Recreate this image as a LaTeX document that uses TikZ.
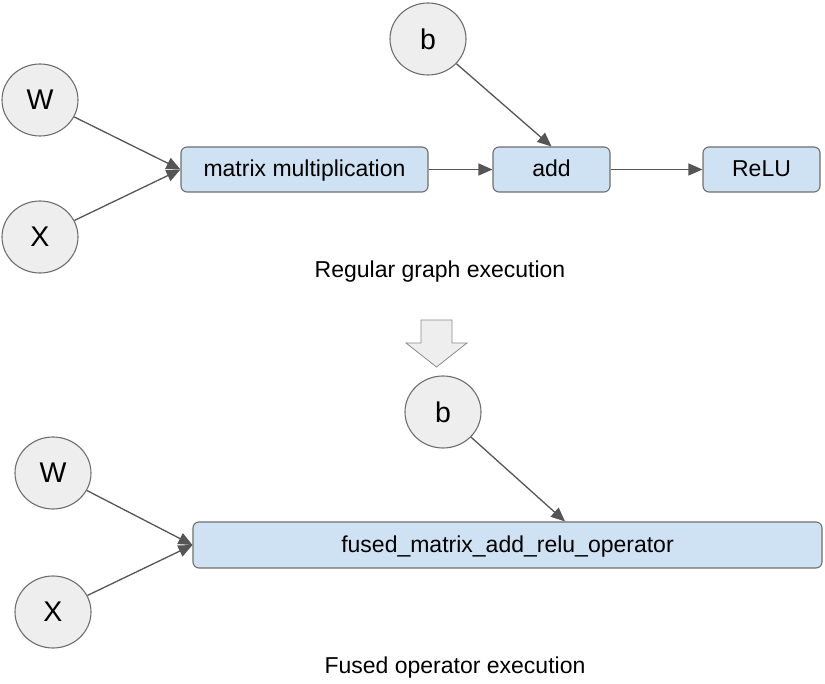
\documentclass[tikz,border=0pt]{standalone}
\usepackage{fontspec}
\setmainfont{Liberation Sans}
\usetikzlibrary{positioning, arrows.meta, shapes.geometric}
\definecolor{circfill}{HTML}{EEEEEE}
\definecolor{boxfill}{HTML}{CFE2F3}
\definecolor{edgegray}{HTML}{6E6E6E}
\definecolor{arrgray}{HTML}{555555}
\newcommand{\bigtxt}{\fontsize{28.5}{32}\selectfont}
\newcommand{\medtxt}{\fontsize{23}{27}\selectfont}

\begin{document}
\begin{tikzpicture}[x=1pt, y=-1pt,
		invar/.style={ellipse, draw=edgegray, fill=circfill, line width=1.1pt, minimum width=76pt, minimum height=72pt, inner sep=0pt, font=\bigtxt},
		opbox/.style={rectangle, rounded corners=6pt, draw=edgegray, fill=boxfill, line width=1.1pt, minimum height=45pt, inner sep=0pt, text height=18pt, text depth=3pt, font=\medtxt},
		flow/.style={draw=arrgray, line width=1.3pt, -{Triangle[length=14pt,width=12pt]}}]
			\useasboundingbox (0,0) rectangle (825,684);

			% regular graph
			\node[invar]  (W1)  at (40,100)  {W};
			\node[invar]  (X1)  at (40,237)  {X};
			\node[invar]  (b1)  at (428,39)  {b};
			\node[opbox, minimum width=247pt]  (mm)    at (304.5,169.5)  {matrix multiplication};
			\node[opbox, minimum width=117pt]  (add)   at (551.5,169.5)  {add};
			\node[opbox, minimum width=117pt]  (relu)  at (761.5,169.5)  {ReLU};
			\node[font=\medtxt]  (cap1)  at (440,272)  {Regular graph execution};

			\draw[flow] (W1) -- (mm.west);
			\draw[flow] (X1) -- (mm.west);
			\draw[flow] (b1) -- (add.north);
			\draw[flow] (mm) -- (add);
			\draw[flow] (add) -- (relu);

			% block arrow
			\filldraw[fill=circfill, draw=edgegray!80, line width=0.8pt]
				(421,320) -- (452,320) -- (452,343) -- (467,343) -- (436.5,367) -- (406,343) -- (421,343) -- cycle;

			% fused graph
			\node[invar]  (b2)  at (443,412)  {b};
			\node[invar]  (W2)  at (53,473)   {W};
			\node[invar]  (X2)  at (53,612)   {X};
			\node[opbox, minimum width=629pt, minimum height=46pt]  (fused)  at (507.5,545)  {fused\_matrix\_add\_relu\_operator};
			\node[font=\medtxt]  (cap2)  at (455,668)  {Fused operator execution};

			\draw[flow] (W2) -- (fused.west);
			\draw[flow] (X2) -- (fused.west);
			\draw[flow] (b2) -- (fused.north -| 565,0);
\end{tikzpicture}
\end{document}
